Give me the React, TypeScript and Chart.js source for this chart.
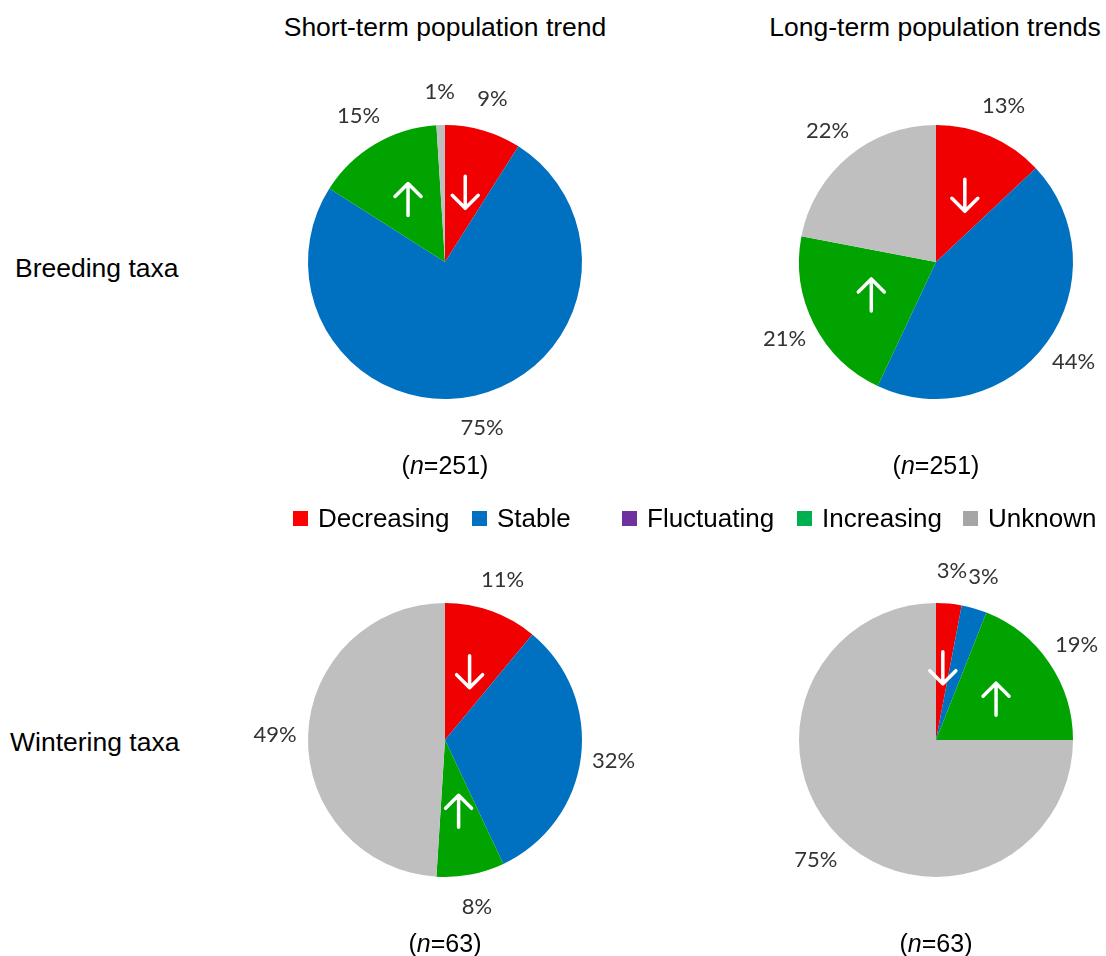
import React, { useEffect, useRef } from "react";
import { Chart, registerables } from "chart.js";

Chart.register(...registerables);

// ---- data ----
const categories = ["Decreasing", "Stable", "Fluctuating", "Increasing", "Unknown"];
const sliceColors = ["#F00000", "#0070C0", "#7030A0", "#00A300", "#BFBFBF"];
const legendColors = ["#FF0000", "#0070C0", "#7030A0", "#00B050", "#A6A6A6"];
const arrowDirs = ["down", null, null, "up", null];

const breedingShort = [9, 75, 0, 15, 1];
const breedingLong = [13, 44, 0, 21, 22];
const winteringShort = [11, 32, 0, 8, 49];
const winteringLong = [3, 3, 0, 19, 75];

const columnTitles = ["Short-term population trend", "Long-term population trends"];
const rowTitles = ["Breeding taxa", "Wintering taxa"];
const sampleSizes = [251, 63];

const PIE_R = 137;
const CANVAS = 420;

const pieDecor = {
  id: "pieDecor",
  afterDatasetsDraw(chart: any) {
    const ctx = chart.ctx;
    const meta = chart.getDatasetMeta(0);
    const data = chart.data.datasets[0].data as number[];
    ctx.save();
    meta.data.forEach((arc: any, i: number) => {
      const v = data[i];
      if (!v) return;
      const { x, y, startAngle, endAngle, outerRadius } = arc.getProps(
        ["x", "y", "startAngle", "endAngle", "outerRadius"],
        true
      );
      const mid = (startAngle + endAngle) / 2;
      // percentage label
      const ld = outerRadius + 33;
      ctx.fillStyle = "#333333";
      ctx.font = "22px Lato, 'Open Sans', sans-serif";
      ctx.textAlign = "center";
      ctx.textBaseline = "middle";
      ctx.fillText(v + "%", x + Math.cos(mid) * ld, y + Math.sin(mid) * ld);
      // arrows
      const dir = arrowDirs[i];
      if (dir) {
        const ad = outerRadius * 0.53;
        const ax = x + Math.cos(mid) * ad;
        const ay = y + Math.sin(mid) * ad;
        const half = 16;
        const s = dir === "down" ? 1 : -1;
        const tipY = ay + s * half;
        ctx.strokeStyle = "#FFFFFF";
        ctx.lineWidth = 3.5;
        ctx.lineCap = "round";
        ctx.lineJoin = "round";
        ctx.beginPath();
        ctx.moveTo(ax, ay - s * half);
        ctx.lineTo(ax, tipY);
        ctx.moveTo(ax - 13, tipY - s * 13);
        ctx.lineTo(ax, tipY);
        ctx.lineTo(ax + 13, tipY - s * 13);
        ctx.stroke();
      }
    });
    ctx.restore();
  },
};

function Pie({ values, cx, cy }: { values: number[]; cx: number; cy: number }) {
  const ref = useRef<HTMLCanvasElement>(null);
  useEffect(() => {
    if (!ref.current) return;
    const pad = CANVAS / 2 - PIE_R;
    const chart = new Chart(ref.current, {
      type: "pie",
      data: {
        labels: categories,
        datasets: [
          {
            data: values,
            backgroundColor: sliceColors,
            borderWidth: 0,
          },
        ],
      },
      options: {
        responsive: false,
        animation: false,
        layout: { padding: pad },
        plugins: {
          legend: { display: false },
          tooltip: { enabled: false },
        },
      },
      plugins: [pieDecor],
    });
    return () => chart.destroy();
  }, [values]);
  return (
    <canvas
      ref={ref}
      width={CANVAS}
      height={CANVAS}
      style={{
        position: "absolute",
        left: cx - CANVAS / 2,
        top: cy - CANVAS / 2,
        width: CANVAS,
        height: CANVAS,
      }}
    />
  );
}

const textBase: React.CSSProperties = {
  position: "absolute",
  fontFamily: "'Liberation Sans', Arial, sans-serif",
  fontSize: 26,
  lineHeight: 1,
  color: "#000",
  whiteSpace: "nowrap",
};

export default function App() {
  const colX = [445, 936];
  const rowY = [262, 740];
  const legendLefts = [293, 472, 622, 797, 963];
  return (
    <div
      style={{
        position: "absolute",
        left: 0,
        top: 0,
        width: 1106,
        height: 956,
        overflow: "hidden",
        background: "#fff",
      }}
    >
      {columnTitles.map((t, i) => (
        <div key={t} style={{ ...textBase, fontSize: 26.5, left: i === 0 ? 445 : 935, top: 27, transform: "translate(-50%,-50%)" }}>
          {t}
        </div>
      ))}
      {rowTitles.map((t, i) => (
        <div key={t} style={{ ...textBase, fontSize: 26.5, left: i === 0 ? 15 : 10, top: i === 0 ? 268 : 742, transform: "translateY(-50%)" }}>
          {t}
        </div>
      ))}
      <Pie values={breedingShort} cx={colX[0]} cy={rowY[0]} />
      <Pie values={breedingLong} cx={colX[1]} cy={rowY[0]} />
      <Pie values={winteringShort} cx={colX[0]} cy={rowY[1]} />
      <Pie values={winteringLong} cx={colX[1]} cy={rowY[1]} />
      {sampleSizes.map((n, r) =>
        colX.map((x, c) => (
          <div
            key={r + "-" + c}
            style={{ ...textBase, fontSize: 25, left: x, top: r === 0 ? 465 : 943, transform: "translate(-50%,-50%)" }}
          >
            (<i>n</i>={n})
          </div>
        ))
      )}
      {categories.map((c, i) => (
        <div
          key={c}
          style={{ ...textBase, left: legendLefts[i], top: 518, transform: "translateY(-50%)", display: "flex", alignItems: "center" }}
        >
          <span
            style={{ display: "inline-block", width: 15, height: 15, background: legendColors[i], marginRight: 10 }}
          />
          <span>{c}</span>
        </div>
      ))}
    </div>
  );
}
